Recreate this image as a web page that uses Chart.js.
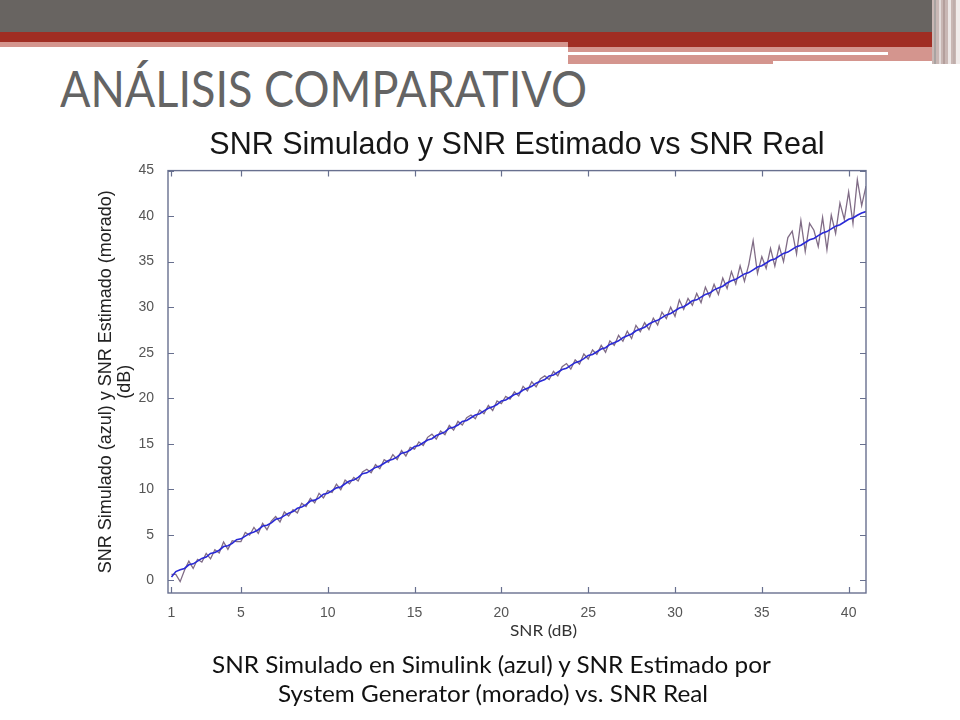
<!DOCTYPE html>
<html><head><meta charset="utf-8">
<script src="https://cdn.jsdelivr.net/npm/chart.js@4.4.1/dist/chart.umd.min.js"></script>
<style>
html,body{margin:0;padding:0;width:960px;height:720px;overflow:hidden;background:#fff;}
.bar{position:absolute;}
.txt{position:absolute;white-space:nowrap;line-height:1;transform-origin:left top;margin:0;padding:0;}
#wrap{position:absolute;left:0;top:0;width:960px;height:720px;}
</style></head><body>
<div class="bar" style="left:0;top:0;width:960px;height:32px;background:#686461"></div>
<div class="bar" style="left:0;top:32px;width:932px;height:10px;background:#a02d23"></div>
<div class="bar" style="left:0;top:42px;width:568px;height:5px;background:#d4958e"></div>
<div class="bar" style="left:568px;top:42px;width:364px;height:5px;background:#a02d23"></div>
<div class="bar" style="left:568px;top:47px;width:364px;height:5px;background:#d4958e"></div>
<div class="bar" style="left:888px;top:52px;width:44px;height:9px;background:#d4958e"></div>
<div class="bar" style="left:568px;top:55px;width:205px;height:9px;background:#d4958e"></div>
<div class="bar" style="left:773px;top:55px;width:159px;height:6px;background:#d4958e"></div>
<div class="bar" style="left:932px;top:0;width:28px;height:64px;background:#c9b7b4"></div>
<div class="bar" style="left:934px;top:0;width:2px;height:64px;background:#a9a3a1"></div>
<div class="bar" style="left:939px;top:0;width:2px;height:64px;background:#e3dbda"></div>
<div class="bar" style="left:943px;top:0;width:2px;height:64px;background:#b49f9c"></div>
<div class="bar" style="left:948px;top:0;width:3px;height:64px;background:#ece6e5"></div>
<div class="bar" style="left:953px;top:0;width:2px;height:64px;background:#bfaeab"></div>
<div class="bar" style="left:956px;top:0;width:4px;height:64px;background:#f1eceb"></div>

<div id="heading" class="txt" style="color:#646464">ANÁLISIS COMPARATIVO</div>
<div id="wrap"><canvas id="c" width="960" height="720"></canvas></div>
<div id="xlab" class="txt" style="color:#333">SNR (dB)</div>
<div id="cap1" class="txt" style="color:#111">SNR Simulado en Simulink (azul) y SNR Estimado por</div>
<div id="cap2" class="txt" style="color:#111">System Generator (morado) vs. SNR Real</div>

<script>
// ---------- data ----------
const xValues = [
  1, 1.25, 1.5, 1.75, 2, 2.25, 2.5, 2.75,
  3, 3.25, 3.5, 3.75, 4, 4.25, 4.5, 4.75,
  5, 5.25, 5.5, 5.75, 6, 6.25, 6.5, 6.75,
  7, 7.25, 7.5, 7.75, 8, 8.25, 8.5, 8.75,
  9, 9.25, 9.5, 9.75, 10, 10.25, 10.5, 10.75,
  11, 11.25, 11.5, 11.75, 12, 12.25, 12.5, 12.75,
  13, 13.25, 13.5, 13.75, 14, 14.25, 14.5, 14.75,
  15, 15.25, 15.5, 15.75, 16, 16.25, 16.5, 16.75,
  17, 17.25, 17.5, 17.75, 18, 18.25, 18.5, 18.75,
  19, 19.25, 19.5, 19.75, 20, 20.25, 20.5, 20.75,
  21, 21.25, 21.5, 21.75, 22, 22.25, 22.5, 22.75,
  23, 23.25, 23.5, 23.75, 24, 24.25, 24.5, 24.75,
  25, 25.25, 25.5, 25.75, 26, 26.25, 26.5, 26.75,
  27, 27.25, 27.5, 27.75, 28, 28.25, 28.5, 28.75,
  29, 29.25, 29.5, 29.75, 30, 30.25, 30.5, 30.75,
  31, 31.25, 31.5, 31.75, 32, 32.25, 32.5, 32.75,
  33, 33.25, 33.5, 33.75, 34, 34.25, 34.5, 34.75,
  35, 35.25, 35.5, 35.75, 36, 36.25, 36.5, 36.75,
  37, 37.25, 37.5, 37.75, 38, 38.25, 38.5, 38.75,
  39, 39.25, 39.5, 39.75, 40, 40.25, 40.5, 40.75,
  41
];
// SNR Simulado (azul)
const simulatedSNR = [
  0.35, 0.95, 1.15, 1.30, 1.70, 1.80, 2.10, 2.40,
  2.55, 2.95, 3.05, 3.30, 3.70, 3.80, 4.05, 4.45,
  4.55, 4.85, 5.15, 5.30, 5.55, 5.95, 6.05, 6.30,
  6.70, 6.80, 7.10, 7.35, 7.55, 7.90, 8.05, 8.30,
  8.70, 8.80, 9.05, 9.45, 9.55, 9.85, 10.15, 10.25,
  10.60, 10.90, 11.00, 11.30, 11.70, 11.80, 12.10, 12.40,
  12.55, 12.85, 13.15, 13.30, 13.55, 13.95, 14.05, 14.30,
  14.70, 14.80, 15.10, 15.40, 15.55, 15.90, 16.10, 16.30,
  16.70, 16.80, 17.05, 17.45, 17.55, 17.85, 18.15, 18.30,
  18.60, 18.90, 19.05, 19.30, 19.70, 19.80, 20.10, 20.40,
  20.55, 20.90, 21.10, 21.30, 21.65, 21.85, 22.05, 22.45,
  22.55, 22.85, 23.15, 23.30, 23.60, 23.90, 24.05, 24.35,
  24.70, 24.80, 25.10, 25.40, 25.55, 25.90, 26.10, 26.30,
  26.65, 26.85, 27.05, 27.40, 27.60, 27.80, 28.15, 28.40,
  28.55, 28.85, 29.15, 29.30, 29.60, 29.90, 30.05, 30.35,
  30.70, 30.80, 31.10, 31.40, 31.55, 31.90, 32.10, 32.30,
  32.65, 32.90, 33.05, 33.35, 33.65, 33.80, 34.10, 34.40,
  34.55, 34.85, 35.15, 35.30, 35.60, 35.90, 36.05, 36.35,
  36.65, 36.80, 37.10, 37.40, 37.55, 37.85, 38.15, 38.30,
  38.60, 38.90, 39.05, 39.35, 39.65, 39.80, 40.10, 40.35,
  40.50
];
// SNR Estimado (morado)
const estimatedSNR = [
  0.65, 0.65, -0.15, 1.10, 2.10, 1.30, 2.30, 2.00,
  2.95, 2.35, 3.35, 3.00, 4.20, 3.40, 4.35, 4.25,
  4.25, 5.25, 4.95, 5.80, 5.15, 6.25, 5.55, 6.50,
  7.00, 6.40, 7.50, 7.05, 7.75, 7.40, 8.45, 8.10,
  9.00, 8.50, 9.55, 9.05, 9.85, 9.65, 10.55, 9.95,
  11.00, 10.60, 11.30, 10.90, 11.90, 12.20, 11.80, 12.70,
  12.25, 13.25, 12.95, 13.80, 13.25, 14.25, 13.65, 14.60,
  14.40, 15.20, 14.80, 15.70, 16.05, 15.50, 16.40, 16.00,
  17.00, 16.50, 17.45, 17.05, 17.85, 18.15, 17.75, 18.70,
  18.30, 19.20, 18.65, 19.70, 19.40, 20.20, 19.90, 20.70,
  20.25, 21.30, 20.80, 21.80, 21.25, 22.15, 22.45, 22.05,
  22.95, 22.45, 23.45, 23.80, 23.20, 24.20, 23.75, 24.85,
  24.30, 25.30, 24.80, 25.80, 25.05, 26.30, 25.80, 26.90,
  26.25, 27.35, 26.55, 28.00, 27.30, 28.30, 27.55, 28.80,
  28.05, 29.45, 28.75, 30.00, 29.00, 30.80, 29.75, 30.95,
  30.20, 31.50, 30.50, 32.20, 31.15, 32.50, 31.40, 33.20,
  32.05, 33.90, 32.55, 34.55, 32.85, 34.70, 37.30, 33.70,
  35.55, 34.25, 36.45, 34.50, 36.70, 35.00, 37.65, 38.35,
  35.85, 39.50, 36.10, 39.20, 38.45, 36.65, 39.85, 36.30,
  40.10, 38.10, 41.45, 39.65, 42.65, 39.20, 44.00, 41.15,
  43.30
];
const xTickValues = [1, 5, 10, 15, 20, 25, 30, 35, 40];
const yTickValues = [0, 5, 10, 15, 20, 25, 30, 35, 40, 45];
const seriesLabels = ['SNR Simulado (azul)', 'SNR Estimado (morado)'];
const chartTitle = 'SNR Simulado y SNR Estimado vs SNR Real';
const yAxisTitle = ['SNR Simulado (azul) y SNR Estimado (morado)', '(dB)'];

// ---------- slide texts ----------
const mctx = document.createElement('canvas').getContext('2d');
function placeText(id, family, capH, baseline, x, align, targetW) {
  const el = document.getElementById(id);
  const txt = el.textContent;
  mctx.font = '100px ' + family;
  const capM = mctx.measureText('H').actualBoundingBoxAscent / 100;
  const size = capH / capM;
  mctx.font = size + 'px ' + family;
  const m = mctx.measureText(txt);
  const asc = m.fontBoundingBoxAscent, desc = m.fontBoundingBoxDescent;
  const w = m.width;
  const sx = targetW ? targetW / w : 1;
  el.style.font = size + 'px ' + family;
  el.style.lineHeight = size + 'px';
  el.style.transform = 'scaleX(' + sx + ')';
  const baseOff = (size - (asc + desc)) / 2 + asc;
  el.style.top = (baseline - baseOff) + 'px';
  el.style.left = (align === 'center' ? x - w * sx / 2 : x) + 'px';
  return sx;
}
const F = 'Lato, "Open Sans", sans-serif';
placeText('heading', F, 37, 108, 60, 'left', 527);
const capScale = placeText('cap1', F, 16.5, 674, 492, 'center', 560);
(function(){
  const el = document.getElementById('cap2');
  el.style.font = document.getElementById('cap1').style.font;
  el.style.lineHeight = document.getElementById('cap1').style.lineHeight;
  mctx.font = el.style.font;
  const m = mctx.measureText(el.textContent);
  el.style.transform = 'scaleX(' + capScale + ')';
  const top1 = parseFloat(document.getElementById('cap1').style.top);
  el.style.top = (top1 + 29) + 'px';
  el.style.left = (494 - m.width * capScale / 2) + 'px';
})();
placeText('xlab', F, 10.5, 637, 543, 'center', 67);

// ---------- chart ----------
const framePlugin = {
  id: 'frame',
  afterDraw(chart) {
    const {ctx, chartArea: a, scales: {x, y}} = chart;
    ctx.save();
    ctx.strokeStyle = '#68708f';
    ctx.lineWidth = 1.4;
    ctx.strokeRect(a.left, a.top, a.right - a.left, a.bottom - a.top);
    ctx.lineWidth = 1.2;
    ctx.beginPath();
    x.ticks.forEach(t => {
      const px = Math.round(x.getPixelForValue(t.value)) + 0.5;
      ctx.moveTo(px, a.bottom); ctx.lineTo(px, a.bottom - 6);
      ctx.moveTo(px, a.top); ctx.lineTo(px, a.top + 6);
    });
    y.ticks.forEach(t => {
      const py = Math.round(y.getPixelForValue(t.value)) + 0.5;
      ctx.moveTo(a.left, py); ctx.lineTo(a.left + 6, py);
      ctx.moveTo(a.right, py); ctx.lineTo(a.right - 6, py);
    });
    ctx.stroke();
    ctx.restore();
  }
};

const tickFont = {family: '"Liberation Sans", Arial, sans-serif', size: 14};
new Chart(document.getElementById('c'), {
  type: 'line',
  data: {
    datasets: [
      {
        label: seriesLabels[0],
        data: xValues.map((x, i) => ({x: x, y: simulatedSNR[i]})),
        borderColor: '#2a2ad6',
        borderWidth: 1.6,
        pointRadius: 0,
        tension: 0
      },
      {
        label: seriesLabels[1],
        data: xValues.map((x, i) => ({x: x, y: estimatedSNR[i]})),
        borderColor: '#806c86',
        borderWidth: 1.3,
        pointRadius: 0,
        tension: 0
      }
    ]
  },
  options: {
    responsive: false,
    animation: false,
    devicePixelRatio: 1,
    layout: {padding: {top: 0, left: 0, right: 94, bottom: 0}},
    plugins: {
      legend: {display: false},
      tooltip: {enabled: false},
      title: {
        display: true,
        text: chartTitle,
        fullSize: false,
        color: '#161616',
        font: {family: '"Liberation Sans", Arial, sans-serif', size: 30.5, weight: 'normal', lineHeight: 1.2},
        padding: {top: 127, bottom: 7}
      }
    },
    scales: {
      x: {
        type: 'linear',
        position: 'bottom',
        min: 0.8,
        max: 41,
        grid: {display: false},
        border: {display: false},
        ticks: {font: tickFont, color: '#555', padding: 4, autoSkip: false, maxRotation: 0},
        afterBuildTicks: s => { s.ticks = xTickValues.map(v => ({value: v})); },
        afterFit: s => { s.height = 127; }
      },
      y: {
        type: 'linear',
        position: 'left',
        min: -1.4,
        max: 45,
        grid: {display: false},
        border: {display: false},
        ticks: {font: tickFont, color: '#555', padding: 6, autoSkip: false},
        afterBuildTicks: s => { s.ticks = yTickValues.map(v => ({value: v})); },
        afterFit: s => { s.width = 168; },
        title: {
          display: true,
          text: yAxisTitle,
          color: '#222',
          font: {family: '"Liberation Sans", Arial, sans-serif', size: 18, lineHeight: 1.05},
          padding: {top: 97, bottom: 0}
        }
      }
    }
  },
  plugins: [framePlugin]
});
</script>
</body></html>
